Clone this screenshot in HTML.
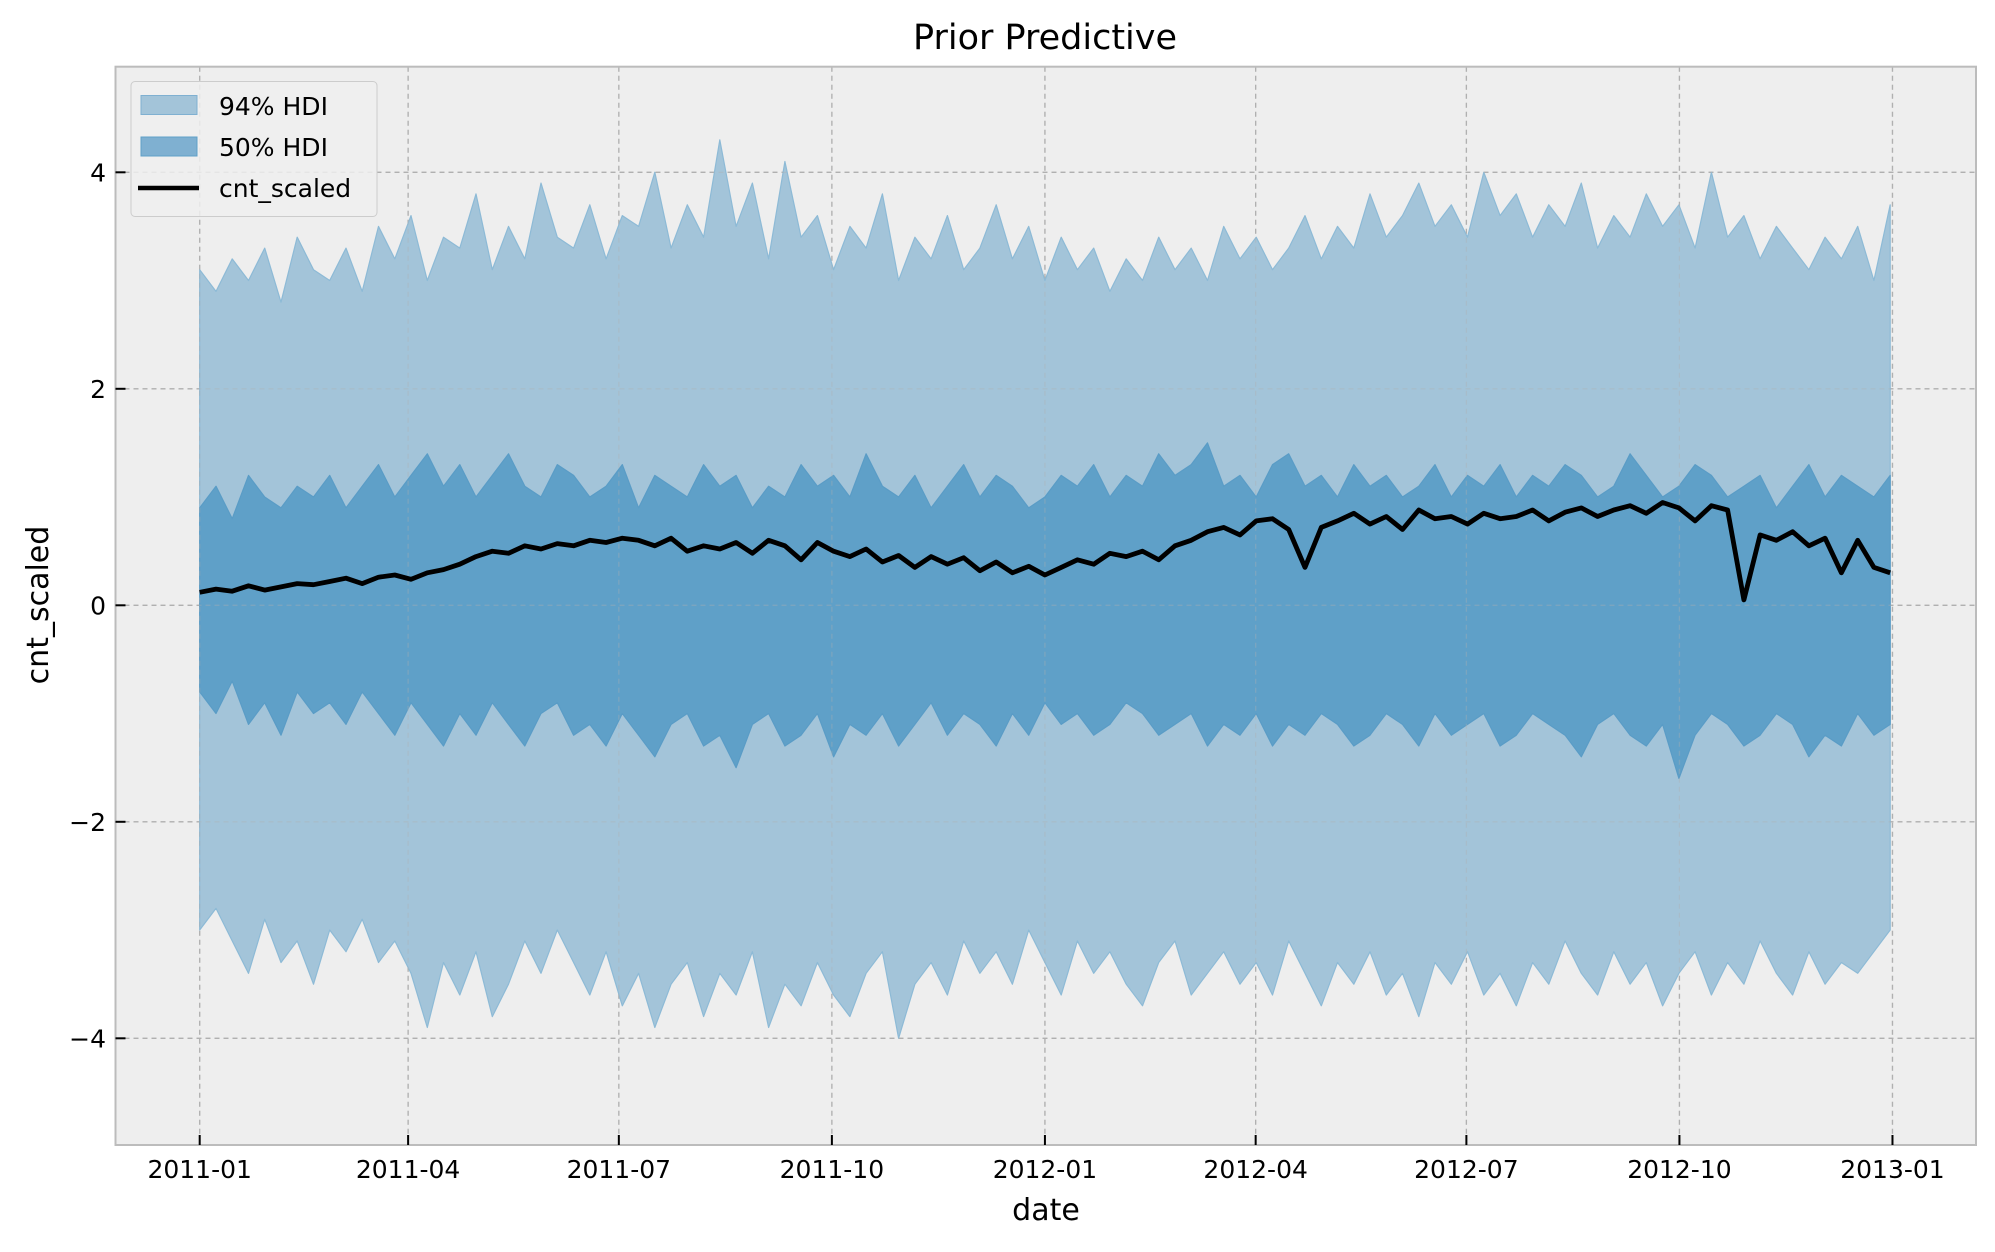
<!DOCTYPE html>
<html><head><meta charset="utf-8">
<style>
html,body{margin:0;padding:0;background:#fff;}
svg text{font-family:"DejaVu Sans","Liberation Sans",sans-serif;}
</style></head>
<body>
<svg id="chart" width="1995" height="1247" viewBox="0 0 1995 1247" xmlns="http://www.w3.org/2000/svg">
<rect x="0" y="0" width="1995" height="1247" fill="#ffffff"/>
<rect x="115.5" y="66.7" width="1860.5" height="1078.3" fill="#eeeeee"/>
<g id="grid"></g>
<g id="bands"></g>
<g id="grid2" opacity="0.35"></g>
<g id="lines"></g>
<rect x="115.5" y="66.7" width="1860.5" height="1078.3" fill="none" stroke="#bcbcbc" stroke-width="2"/>
<g id="ticks"></g>
<text x="1045" y="49" font-size="35" text-anchor="middle">Prior Predictive</text>
<text x="1046" y="1220" font-size="30" text-anchor="middle">date</text>
<text x="48" y="605" font-size="30" text-anchor="middle" transform="rotate(-90 48 605)">cnt_scaled</text>
<g>
  <rect x="131" y="81.5" width="246" height="135" rx="4" fill="#eeeeee" fill-opacity="0.85" stroke="#cccccc" stroke-width="1"/>
  <rect x="141" y="95.5" width="56" height="19" fill="#a3c4d9" stroke="#7fb0d1" stroke-width="1"/>
  <text x="219" y="115" font-size="25">94% HDI</text>
  <rect x="141" y="137" width="56" height="19" fill="#7fb0d1" stroke="#5fa0c8" stroke-width="1"/>
  <text x="219" y="156" font-size="25">50% HDI</text>
  <line x1="138" y1="188" x2="199" y2="188" stroke="#000" stroke-width="4.5"/>
  <text x="219" y="197" font-size="25">cnt_scaled</text>
</g>
</svg>
<script>
const xTickLabels = ["2011-01","2011-04","2011-07","2011-10","2012-01","2012-04","2012-07","2012-10","2013-01"];
const xTickDays = [0,90,181,273,365,456,547,639,731];
const yTicks = [-4,-2,0,2,4];
const yTickLabels = ["\u22124","\u22122","0","2","4"];
const totalDays = 730;
const upper94 = [3.1,2.9,3.2,3.0,3.3,2.8,3.4,3.1,3.0,3.3,2.9,3.5,3.2,3.6,3.0,3.4,3.3,3.8,3.1,3.5,3.2,3.9,3.4,3.3,3.7,3.2,3.6,3.5,4.0,3.3,3.7,3.4,4.3,3.5,3.9,3.2,4.1,3.4,3.6,3.1,3.5,3.3,3.8,3.0,3.4,3.2,3.6,3.1,3.3,3.7,3.2,3.5,3.0,3.4,3.1,3.3,2.9,3.2,3.0,3.4,3.1,3.3,3.0,3.5,3.2,3.4,3.1,3.3,3.6,3.2,3.5,3.3,3.8,3.4,3.6,3.9,3.5,3.7,3.4,4.0,3.6,3.8,3.4,3.7,3.5,3.9,3.3,3.6,3.4,3.8,3.5,3.7,3.3,4.0,3.4,3.6,3.2,3.5,3.3,3.1,3.4,3.2,3.5,3.0,3.7];
const lower94 = [-3.0,-2.8,-3.1,-3.4,-2.9,-3.3,-3.1,-3.5,-3.0,-3.2,-2.9,-3.3,-3.1,-3.4,-3.9,-3.3,-3.6,-3.2,-3.8,-3.5,-3.1,-3.4,-3.0,-3.3,-3.6,-3.2,-3.7,-3.4,-3.9,-3.5,-3.3,-3.8,-3.4,-3.6,-3.2,-3.9,-3.5,-3.7,-3.3,-3.6,-3.8,-3.4,-3.2,-4.0,-3.5,-3.3,-3.6,-3.1,-3.4,-3.2,-3.5,-3.0,-3.3,-3.6,-3.1,-3.4,-3.2,-3.5,-3.7,-3.3,-3.1,-3.6,-3.4,-3.2,-3.5,-3.3,-3.6,-3.1,-3.4,-3.7,-3.3,-3.5,-3.2,-3.6,-3.4,-3.8,-3.3,-3.5,-3.2,-3.6,-3.4,-3.7,-3.3,-3.5,-3.1,-3.4,-3.6,-3.2,-3.5,-3.3,-3.7,-3.4,-3.2,-3.6,-3.3,-3.5,-3.1,-3.4,-3.6,-3.2,-3.5,-3.3,-3.4,-3.2,-3.0];
const upper50 = [0.9,1.1,0.8,1.2,1.0,0.9,1.1,1.0,1.2,0.9,1.1,1.3,1.0,1.2,1.4,1.1,1.3,1.0,1.2,1.4,1.1,1.0,1.3,1.2,1.0,1.1,1.3,0.9,1.2,1.1,1.0,1.3,1.1,1.2,0.9,1.1,1.0,1.3,1.1,1.2,1.0,1.4,1.1,1.0,1.2,0.9,1.1,1.3,1.0,1.2,1.1,0.9,1.0,1.2,1.1,1.3,1.0,1.2,1.1,1.4,1.2,1.3,1.5,1.1,1.2,1.0,1.3,1.4,1.1,1.2,1.0,1.3,1.1,1.2,1.0,1.1,1.3,1.0,1.2,1.1,1.3,1.0,1.2,1.1,1.3,1.2,1.0,1.1,1.4,1.2,1.0,1.1,1.3,1.2,1.0,1.1,1.2,0.9,1.1,1.3,1.0,1.2,1.1,1.0,1.2];
const lower50 = [-0.8,-1.0,-0.7,-1.1,-0.9,-1.2,-0.8,-1.0,-0.9,-1.1,-0.8,-1.0,-1.2,-0.9,-1.1,-1.3,-1.0,-1.2,-0.9,-1.1,-1.3,-1.0,-0.9,-1.2,-1.1,-1.3,-1.0,-1.2,-1.4,-1.1,-1.0,-1.3,-1.2,-1.5,-1.1,-1.0,-1.3,-1.2,-1.0,-1.4,-1.1,-1.2,-1.0,-1.3,-1.1,-0.9,-1.2,-1.0,-1.1,-1.3,-1.0,-1.2,-0.9,-1.1,-1.0,-1.2,-1.1,-0.9,-1.0,-1.2,-1.1,-1.0,-1.3,-1.1,-1.2,-1.0,-1.3,-1.1,-1.2,-1.0,-1.1,-1.3,-1.2,-1.0,-1.1,-1.3,-1.0,-1.2,-1.1,-1.0,-1.3,-1.2,-1.0,-1.1,-1.2,-1.4,-1.1,-1.0,-1.2,-1.3,-1.1,-1.6,-1.2,-1.0,-1.1,-1.3,-1.2,-1.0,-1.1,-1.4,-1.2,-1.3,-1.0,-1.2,-1.1];
const cntScaled = [0.12,0.15,0.13,0.18,0.14,0.17,0.2,0.19,0.22,0.25,0.2,0.26,0.28,0.24,0.3,0.33,0.38,0.45,0.5,0.48,0.55,0.52,0.57,0.55,0.6,0.58,0.62,0.6,0.55,0.62,0.5,0.55,0.52,0.58,0.48,0.6,0.55,0.42,0.58,0.5,0.45,0.52,0.4,0.46,0.35,0.45,0.38,0.44,0.32,0.4,0.3,0.36,0.28,0.35,0.42,0.38,0.48,0.45,0.5,0.42,0.55,0.6,0.68,0.72,0.65,0.78,0.8,0.7,0.35,0.72,0.78,0.85,0.75,0.82,0.7,0.88,0.8,0.82,0.75,0.85,0.8,0.82,0.88,0.78,0.86,0.9,0.82,0.88,0.92,0.85,0.95,0.9,0.78,0.92,0.88,0.05,0.65,0.6,0.68,0.55,0.62,0.3,0.6,0.35,0.3];

const NS = "http://www.w3.org/2000/svg";
const X0 = 199.7, PX_PER_DAY = 2.3157, Y0 = 605.3, PX_PER_UNIT = 108.25;
const L = 115.5, R = 1976, T = 66.7, B = 1145;
function xScale(day){ return X0 + day * PX_PER_DAY; }
function yScale(v){ return Y0 - v * PX_PER_UNIT; }
function dayOf(i, n){ return i * totalDays / (n - 1); }
function pts(arr){ return arr.map((v,i)=>xScale(dayOf(i,arr.length)).toFixed(1)+","+yScale(v).toFixed(1)); }
function mk(tag, attrs, parent){
  const e = document.createElementNS(NS, tag);
  for (const k in attrs) e.setAttribute(k, attrs[k]);
  parent.appendChild(e); return e;
}
function drawGrid(g){
  xTickDays.forEach(d=>{
    const ln = mk("line",{x1:xScale(d),x2:xScale(d),y1:T,y2:B,stroke:"#b0b0b0","stroke-width":1.3,"stroke-dasharray":"5,4"},g);
    
    
  });
  yTicks.forEach(v=>{
    const ln = mk("line",{x1:L,x2:R,y1:yScale(v),y2:yScale(v),stroke:"#b0b0b0","stroke-width":1.3,"stroke-dasharray":"5,4"},g);
    
    
  });
}
drawGrid(document.getElementById("grid"));
const bands = document.getElementById("bands");
function band(up, lo, fill, stroke, name){
  const p = pts(up).concat(pts(lo).reverse());
  const poly = mk("polygon",{points:p.join(" "),fill:fill,stroke:stroke,"stroke-width":1.2,"stroke-linejoin":"round"},bands);
  
  
}
band(upper94, lower94, "#a3c4d9", "#8dbad6", "hdi-94-band");
band(upper50, lower50, "#5fa0c8", "#5a9cc6", "hdi-50-band");
drawGrid(document.getElementById("grid2"));
const line = mk("polyline",{points:pts(cntScaled).join(" "),fill:"none",stroke:"#000","stroke-width":4.8,"stroke-linejoin":"round"},document.getElementById("lines"));


const ticks = document.getElementById("ticks");
xTickDays.forEach((d,i)=>{
  const tk = mk("line",{x1:xScale(d),x2:xScale(d),y1:B,y2:B-10,stroke:"#000","stroke-width":2},ticks);
  
  
  const t = mk("text",{x:xScale(d),y:1178,"font-size":25,"text-anchor":"middle"},ticks);
  t.textContent = xTickLabels[i];
  
  
});
yTicks.forEach((v,i)=>{
  const tk = mk("line",{x1:L,x2:L+10,y1:yScale(v),y2:yScale(v),stroke:"#000","stroke-width":2},ticks);
  
  
  const t = mk("text",{x:106,y:yScale(v)+9,"font-size":25,"text-anchor":"end"},ticks);
  t.textContent = yTickLabels[i];
  
  
});
</script>
</body></html>
